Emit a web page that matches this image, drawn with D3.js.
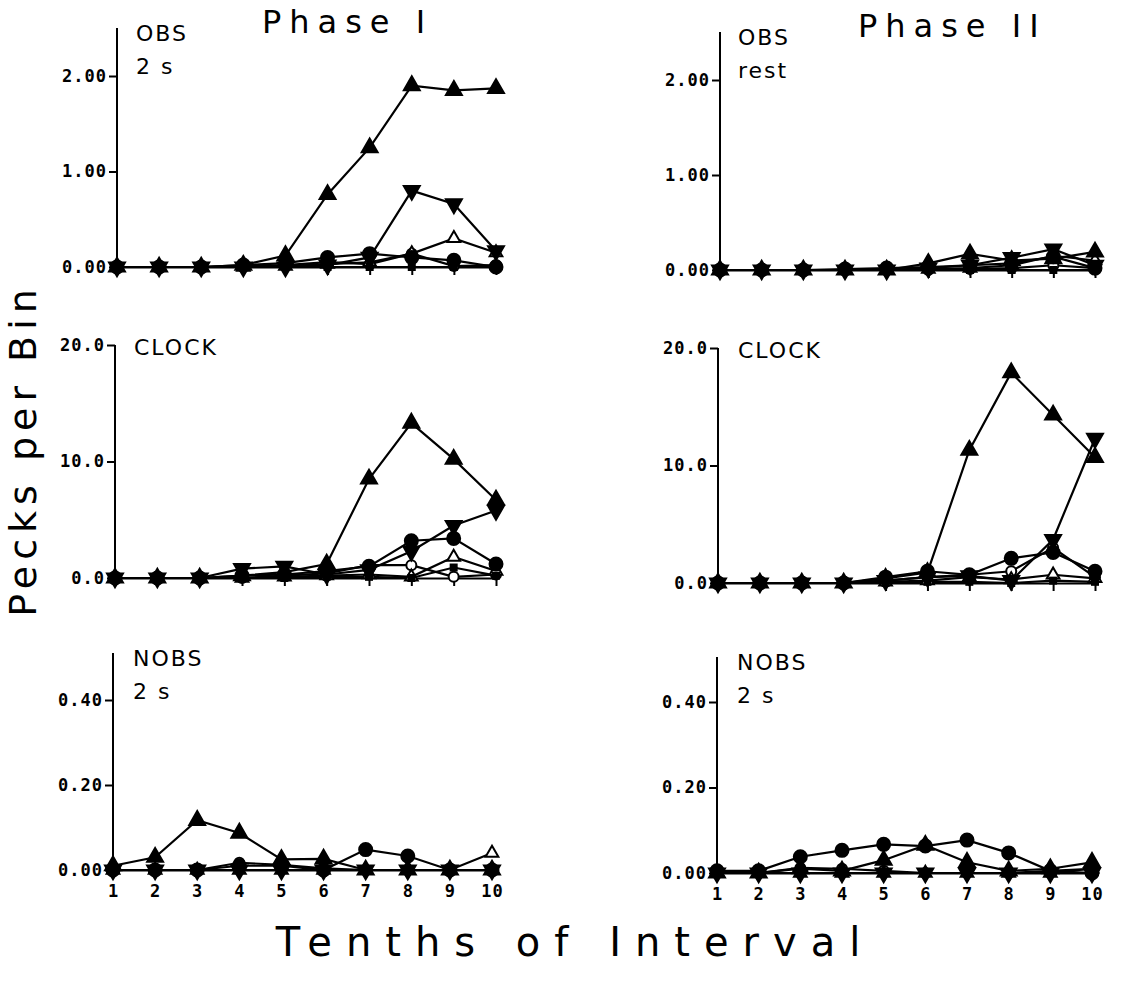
<!DOCTYPE html>
<html>
<head>
<meta charset="utf-8">
<script src="https://cdnjs.cloudflare.com/ajax/libs/d3/7.8.5/d3.min.js"></script>
<style>
body { margin: 0; background: #fff; }
svg { display: block; }
.lab { font-family: "DejaVu Sans", sans-serif; font-size: 22px; letter-spacing: 2px; }
.big { font-family: "DejaVu Sans", sans-serif; }
</style>
</head>
<body>
<svg width="1137" height="988"></svg>
<script>
const bins = [1, 2, 3, 4, 5, 6, 7, 8, 9, 10];
const binLabels = ["1", "2", "3", "4", "5", "6", "7", "8", "9", "10"];

// marker of each subject
const markers = ["upF", "downF", "dotF", "dotO", "upO", "squareF"];

const obsTicks = [0, 1, 2];
const clockTicks = [0, 10, 20];
const nobsTicks = [0, 0.2, 0.4];

// Phase I, OBS 2 s
const obsPhase1 = [
  [0, 0, 0, 0.02, 0.12, 0.76, 1.25, 1.9, 1.85, 1.87],
  [0, 0, 0, 0, 0, 0.02, 0.1, 0.8, 0.66, 0.17],
  [0, 0, 0, 0.02, 0.04, 0.1, 0.14, 0.1, 0.07, 0.0],
  [0, 0, 0, 0.01, 0.02, 0.05, 0.03, 0.14, 0.01, 0.02],
  [0, 0, 0, 0, 0.01, 0.03, 0.05, 0.14, 0.3, 0.15],
  [0, 0, 0, 0, 0, 0, 0, 0, 0, 0]
];
// Phase II, OBS rest
const obsPhase2 = [
  [0, 0, 0, 0, 0, 0.07, 0.17, 0.1, 0.12, 0.19],
  [0, 0, 0, 0, 0, 0.02, 0.05, 0.13, 0.22, 0.05],
  [0, 0, 0, 0.01, 0.02, 0.03, 0.05, 0.07, 0.14, 0.02],
  [0, 0, 0, 0, 0, 0, 0.01, 0.02, 0.05, 0.02],
  [0, 0, 0, 0, 0, 0.01, 0.02, 0.05, 0.15, 0.1],
  [0, 0, 0, 0, 0, 0, 0, 0, 0, 0]
];
// Phase I, CLOCK
const clockPhase1 = [
  [0, 0, 0, 0.2, 0.5, 1.2, 8.5, 13.3, 10.2, 6.7],
  [0, 0, 0, 0.8, 1.0, 0.3, 0.7, 2.3, 4.5, 5.8],
  [0, 0, 0, 0.2, 0.3, 0.6, 1.0, 3.2, 3.4, 1.2],
  [0, 0, 0, 0, 0.2, 0.4, 1.1, 1.1, 0.1, 0.3],
  [0, 0, 0, 0, 0.1, 0.2, 0.3, 0.1, 1.8, 0.6],
  [0, 0, 0, 0, 0, 0.1, 0.1, 0, 0.9, 0.2]
];
// Phase II, CLOCK
const clockPhase2 = [
  [0, 0, 0, 0, 0.4, 0.9, 11.3, 17.9, 14.3, 10.7],
  [0, 0, 0, 0, 0.2, 0.5, 0.6, 0.2, 3.7, 12.3],
  [0, 0, 0, 0, 0.5, 1.0, 0.7, 2.1, 2.6, 1.0],
  [0, 0, 0, 0, 0.2, 0.5, 0.7, 1.0, 3.0, 0.5],
  [0, 0, 0, 0, 0.1, 0.2, 0.5, 0.3, 0.7, 0.4],
  [0, 0, 0, 0, 0, 0.1, 0.1, 0, 0.2, 0.1]
];
// Phase I, NOBS 2 s
const nobsPhase1 = [
  [0.01, 0.03, 0.117, 0.087, 0.025, 0.026, 0, 0, 0, 0],
  [0, 0, 0, 0, 0, 0, 0, 0, 0, 0],
  [0, 0, 0, 0.01, 0.01, 0, 0.048, 0.033, 0, 0],
  [0, 0, 0, 0.017, 0.012, 0.004, 0, 0, 0, 0],
  [0, 0, 0, 0, 0, 0, 0, 0, 0, 0.04],
  [0, 0, 0, 0, 0, 0, 0, 0, 0, 0]
];
// Phase II, NOBS 2 s
const nobsPhase2 = [
  [0, 0, 0.01, 0.005, 0.03, 0.065, 0.025, 0.005, 0.01, 0.025],
  [0, 0, 0, 0, 0, 0, 0, 0, 0, 0],
  [0.005, 0.005, 0.038, 0.053, 0.067, 0.063, 0.077, 0.047, 0.005, 0],
  [0, 0, 0.012, 0.01, 0.005, 0, 0, 0, 0.005, 0.01],
  [0, 0, 0, 0, 0, 0, 0, 0, 0, 0.01],
  [0, 0, 0, 0, 0, 0, 0, 0, 0, 0]
];

const svg = d3.select("svg");

const panels = [
  {data: obsPhase1, ticks: obsTicks, fmt: d3.format(".2f"), ax: 117, x10: 496, y0: 267, yMax: 76, vMax: 2, top: 28, lab: ["OBS", "2 s"], labX: 136, labY: 41, xLabels: false},
  {data: obsPhase2, ticks: obsTicks, fmt: d3.format(".2f"), ax: 720, x10: 1095, y0: 270, yMax: 80, vMax: 2, top: 32, lab: ["OBS", "rest"], labX: 738, labY: 45, xLabels: false},
  {data: clockPhase1, ticks: clockTicks, fmt: d3.format(".1f"), ax: 115, x10: 496, y0: 578, yMax: 345, vMax: 20, top: 345, lab: ["CLOCK"], labX: 134, labY: 355, xLabels: false},
  {data: clockPhase2, ticks: clockTicks, fmt: d3.format(".1f"), ax: 718, x10: 1095, y0: 583, yMax: 348, vMax: 20, top: 348, lab: ["CLOCK"], labX: 738, labY: 358, xLabels: false},
  {data: nobsPhase1, ticks: nobsTicks, fmt: d3.format(".2f"), ax: 113, x10: 492, y0: 870, yMax: 700, vMax: 0.4, top: 653, lab: ["NOBS", "2 s"], labX: 133, labY: 666, xLabels: true},
  {data: nobsPhase2, ticks: nobsTicks, fmt: d3.format(".2f"), ax: 717, x10: 1092, y0: 873, yMax: 702, vMax: 0.4, top: 657, lab: ["NOBS", "2 s"], labX: 737, labY: 670, xLabels: true}
];

function marker(g, kind, cx, cy) {
  const filled = kind.endsWith("F");
  const fill = filled ? "#000" : "#fff";
  if (kind.startsWith("dot")) {
    g.append("circle").attr("cx", cx).attr("cy", cy).attr("r", filled ? 6.5 : 5)
      .attr("fill", fill).attr("stroke", "#000").attr("stroke-width", 2);
  } else if (kind.startsWith("square")) {
    g.append("rect").attr("x", cx - 4).attr("y", cy - 4).attr("width", 8).attr("height", 8).attr("fill", fill);
  } else {
    const rot = kind.startsWith("down") ? 180 : 0;
    g.append("path").attr("d", d3.symbol(d3.symbolTriangle, filled ? 110 : 70)())
      .attr("transform", `translate(${cx},${cy}) rotate(${rot})`)
      .attr("fill", fill).attr("stroke", "#000").attr("stroke-width", 2);
  }
}

const tickStyle = sel => sel
  .attr("fill", "#000")
  .attr("font-family", "'DejaVu Sans Mono', monospace")
  .attr("font-weight", "bold")
  .attr("font-size", 17)
  .attr("letter-spacing", 1);

panels.forEach(p => {
  const x = d3.scaleLinear().domain([1, 10]).range([p.ax, p.x10]);
  const y = d3.scaleLinear().domain([0, p.vMax]).range([p.y0, p.yMax]);
  const g = svg.append("g");

  // x axis: ticks only below the baseline
  const xa = g.append("g").attr("transform", `translate(0,${p.y0})`)
    .call(d3.axisBottom(x).tickValues(bins).tickSizeInner(8).tickSizeOuter(0).tickPadding(7)
      .tickFormat((d, i) => p.xLabels ? binLabels[i] : ""));
  xa.attr("font-size", null).attr("font-family", null);
  xa.select(".domain").attr("stroke-width", 2);
  xa.selectAll(".tick line").attr("stroke-width", 2);
  xa.selectAll(".tick text").call(tickStyle);

  // y axis
  const ya = g.append("g").attr("transform", `translate(${p.ax},0)`)
    .call(d3.axisLeft(y).tickValues(p.ticks).tickSizeInner(8).tickSizeOuter(0).tickPadding(2).tickFormat(p.fmt));
  ya.attr("font-size", null).attr("font-family", null);
  ya.select(".domain").remove();
  ya.selectAll(".tick line").attr("stroke-width", 2);
  ya.selectAll(".tick text").call(tickStyle);
  g.append("line").attr("x1", p.ax).attr("x2", p.ax).attr("y1", p.top).attr("y2", p.y0)
    .attr("stroke", "#000").attr("stroke-width", 2);

  const line = d3.line().x((d, i) => x(bins[i])).y(d => y(d));
  p.data.forEach(s => {
    g.append("path").attr("d", line(s)).attr("fill", "none").attr("stroke", "#000").attr("stroke-width", 2.2);
  });
  // open markers first so filled ones sit on top where they coincide
  const order = [3, 4, 5, 2, 1, 0];
  order.forEach(k => {
    p.data[k].forEach((v, i) => marker(g, markers[k], x(bins[i]), y(v)));
  });

  p.lab.forEach((t, i) => {
    g.append("text").attr("class", "lab").attr("x", p.labX).attr("y", p.labY + i * 33).text(t);
  });
});

svg.append("text").attr("class", "big").attr("x", 262).attr("y", 33)
  .style("font-size", "32px").style("letter-spacing", "8px").text("Phase I");
svg.append("text").attr("class", "big").attr("x", 858).attr("y", 37)
  .style("font-size", "32px").style("letter-spacing", "8px").text("Phase II");
svg.append("text").attr("class", "big").attr("transform", "translate(36,450) rotate(-90)")
  .attr("text-anchor", "middle").style("font-size", "38px").style("letter-spacing", "6px").text("Pecks per Bin");
svg.append("text").attr("class", "big").attr("x", 575).attr("y", 956)
  .attr("text-anchor", "middle").style("font-size", "40px").style("letter-spacing", "14px").text("Tenths of Interval");
</script>
</body>
</html>
